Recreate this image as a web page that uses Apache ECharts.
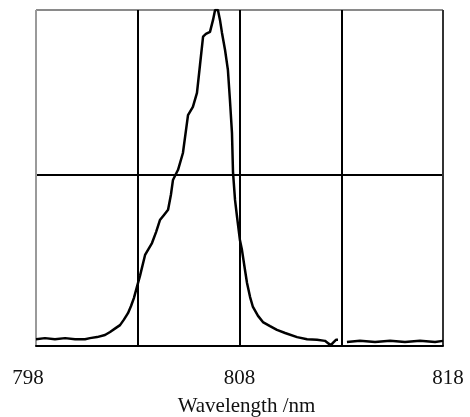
<!DOCTYPE html>
<html>
<head>
<meta charset="utf-8">
<script src="https://cdn.jsdelivr.net/npm/echarts@6/dist/echarts.min.js"></script>
<style>
html,body{margin:0;padding:0;background:#fff;}
#chart{width:470px;height:417px;}
</style>
</head>
<body>
<div id="chart"></div>
<script>
// Wavelength (nm) and normalized intensity (a.u.)
var wavelength = [798.00,798.44,798.93,799.43,799.92,800.41,800.65,801.00,801.39,801.64,801.93,802.13,802.32,802.52,802.67,802.81,802.96,803.11,803.36,803.70,803.90,804.09,804.29,804.49,804.63,804.73,804.98,805.22,805.47,805.71,805.91,806.06,806.21,806.35,806.55,806.70,806.80,806.94,807.04,807.14,807.29,807.43,807.53,807.63,807.68,807.78,807.88,808.02,808.12,808.27,808.37,808.52,808.66,808.91,809.15,809.50,809.84,810.24,810.83,811.32,811.81,812.20,812.40,812.50,812.59,812.74,812.84,813.10,813.28,813.92,814.66,815.40,816.13,816.87,817.61,818.00];
var intensity = [0.020,0.023,0.020,0.023,0.020,0.020,0.023,0.026,0.032,0.041,0.053,0.061,0.077,0.096,0.117,0.140,0.173,0.205,0.266,0.301,0.333,0.368,0.383,0.398,0.442,0.485,0.515,0.564,0.675,0.699,0.740,0.822,0.904,0.912,0.918,0.953,0.982,0.982,0.953,0.915,0.865,0.807,0.719,0.623,0.509,0.427,0.377,0.310,0.281,0.222,0.184,0.143,0.114,0.088,0.070,0.058,0.047,0.038,0.026,0.020,0.018,0.015,0.006,0.003,0.009,0.018,0.018,null,0.012,0.015,0.012,0.015,0.012,0.015,0.012,0.015];
var axisStart = 798;
var axisEnd = 818;
var gridStep = 5;
var tickLabels = ['798','808','818'];
var tickValues = [798,808,818];
var yMax = 0.982;
var yStep = 0.5;
var axisTitle = 'Wavelength /nm';

var chart = echarts.init(document.getElementById('chart'), null, {renderer:'canvas'});
var seriesData = wavelength.map(function(w,i){
  return [w - axisStart, intensity[i] === null ? '-' : intensity[i]];
});
var serif = '"Liberation Serif","DejaVu Serif",serif';
var option = {
  animation:false,
  backgroundColor:'#fff',
  grid:{left:36,right:27,top:10,bottom:71,containLabel:false,outerBoundsMode:'none'},
  xAxis:{
    type:'value',
    min:0, max:axisEnd-axisStart, interval:gridStep,
    axisLine:{show:true,lineStyle:{color:'#000',width:2}},
    axisTick:{show:false},
    splitLine:{show:true,lineStyle:{color:['#9a9a9a','#000','#000','#000','#333'],width:2}},
    axisLabel:{
      show:true, showMinLabel:true, showMaxLabel:true, margin:22,
      fontFamily:serif, fontSize:21, color:'#111',
      formatter:function(v){
        var idx = tickValues.indexOf(v + axisStart);
        if(idx===0) return '{l|'+tickLabels[0]+'}';
        if(idx===1) return '{m|'+tickLabels[1]+'}';
        if(idx===2) return '{r|'+tickLabels[2]+'}';
        return '';
      },
      rich:{
        l:{fontFamily:serif,fontSize:21,color:'#111',padding:[0,16,0,0]},
        m:{fontFamily:serif,fontSize:21,color:'#111',padding:[0,0,0,0]},
        r:{fontFamily:serif,fontSize:21,color:'#111',padding:[0,0,0,10]}
      }
    },
    name:axisTitle, nameLocation:'middle', nameGap:50,
    nameTextStyle:{fontFamily:serif,fontSize:21,color:'#111',padding:[0,0,0,14]}
  },
  yAxis:{
    type:'value',
    min:0, max:yMax, interval:yStep,
    axisLine:{show:false},
    axisTick:{show:false},
    axisLabel:{show:false},
    splitLine:{show:true,lineStyle:{color:['#000','#000','#8a8a8a'],width:2}}
  },
  series:[{
    type:'line',
    data:seriesData,
    showSymbol:false,
    connectNulls:false,
    smooth:false,
    lineStyle:{color:'#000',width:2.5},
    silent:true
  }]
};
chart.setOption(option);
</script>
</body>
</html>
